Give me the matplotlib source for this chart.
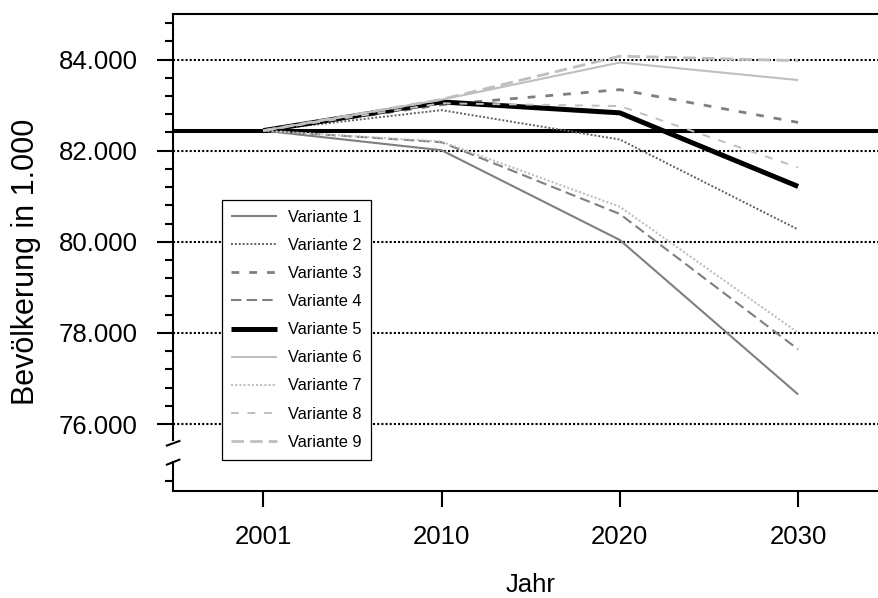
import matplotlib
matplotlib.use("Agg")
import matplotlib.pyplot as plt
import matplotlib.transforms as mtransforms
import numpy as np

plt.rcParams['font.family'] = ['Liberation Sans', 'DejaVu Sans']

# Bevoelkerung in 1.000
years = ['2001', '2010', '2020', '2030']
variante_1 = [82440, 82010, 80040, 76650]
variante_2 = [82440, 82890, 82245, 80270]
variante_3 = [82440, 83010, 83340, 82620]
variante_4 = [82440, 82185, 80610, 77640]
variante_5 = [82440, 83070, 82830, 81215]
variante_6 = [82440, 83120, 83935, 83550]
variante_7 = [82440, 82200, 80770, 78005]
variante_8 = [82440, 83040, 82980, 81630]
variante_9 = [82440, 83125, 84075, 83975]
stand_2001 = 82440

series = [variante_1, variante_2, variante_3, variante_4, variante_5,
          variante_6, variante_7, variante_8, variante_9]
labels = ['Variante %d' % (i + 1) for i in range(9)]

y_major = [76000, 78000, 80000, 82000, 84000]
y_major_labels = ['76.000', '78.000', '80.000', '82.000', '84.000']

# styles: colour, linewidth, dash pattern
dark = '#7f7f7f'
light = '#bfbfbf'
styles = [
    (dark, 1.5, '-'),
    ('#606060', 1.4, (0, (1, 1))),
    (dark, 2.0, (0, (2.8, 3.6))),
    (dark, 1.5, (0, (5, 2.5))),
    ('black', 3.6, '-'),
    (light, 1.5, '-'),
    (light, 1.5, (0, (1, 1))),
    (light, 1.4, (0, (4, 4.5))),
    (light, 2.0, (0, (4.5, 2.2))),
]

fig = plt.figure(figsize=(8.79, 5.98), dpi=100)
ax = fig.add_axes([0.1968, 0.1789, 0.8138, 0.7977])

x = np.arange(len(years))
ax.axhline(stand_2001, color='black', lw=2.9, zorder=2)
handles = []
for vals, lab, (col, lw, ls) in zip(series, labels, styles):
    h, = ax.plot(x, vals, color=col, lw=lw, linestyle=ls, label=lab,
                 solid_capstyle='butt', zorder=3)
    handles.append(h)

ax.set_xlim(-0.506, 3.506)
ax.set_ylim(74530, 85000)

ax.set_xticks(x)
ax.set_xticklabels(years)
ax.set_yticks(y_major)
ax.set_yticklabels(y_major_labels)
ax.set_yticks(list(np.arange(76000, 85000, 400)) + [74740], minor=True)

ax.yaxis.grid(True, which='major', color='black', lw=1.5,
              linestyle=(0, (1, 1)))
ax.set_axisbelow(True)

ax.tick_params(axis='both', which='major', labelsize=18.5, width=1.5,
               length=11.5, color='black')
ax.tick_params(axis='y', which='major', pad=14)
ax.tick_params(axis='x', which='major', pad=13)
ax.tick_params(axis='y', which='minor', length=5.8, width=1.5)
ax.tick_params(axis='x', which='minor', bottom=False)

for side in ['top', 'bottom']:
    ax.spines[side].set_linewidth(1.5)
ax.spines['right'].set_visible(False)
ax.spines['left'].set_visible(False)

# broken left axis
trans = mtransforms.blended_transform_factory(ax.transAxes, ax.transData)
brk_hi, brk_lo = 75618, 75179
ax.plot([0, 0], [brk_hi, 85000], color='black', lw=1.5, transform=trans,
        clip_on=False, solid_capstyle='butt')
ax.plot([0, 0], [74530, brk_lo], color='black', lw=1.5, transform=trans,
        clip_on=False, solid_capstyle='butt')
ax.plot([-0.0085, 0.009], [brk_hi - 90, brk_hi + 10], color='black',
        lw=1.5, transform=trans, clip_on=False)
ax.plot([-0.0085, 0.009], [brk_lo - 70, brk_lo + 40], color='black',
        lw=1.5, transform=trans, clip_on=False)

ax.set_ylabel('Bevölkerung in 1.000', fontsize=22)
ax.yaxis.set_label_coords(-0.184, 0.48)
ax.set_xlabel('Jahr', fontsize=18.5)
ax.xaxis.set_label_coords(0.5, -0.172)

leg = ax.legend(handles=handles, loc='lower left',
                bbox_to_anchor=(0.068, 0.066), borderaxespad=0,
                fontsize=11.8, frameon=True, fancybox=False,
                edgecolor='black', framealpha=1, handlelength=2.75,
                handletextpad=0.7, labelspacing=0.8, borderpad=0.6)
leg.get_frame().set_linewidth(0.9)

fig.savefig('out.png', dpi=100)
